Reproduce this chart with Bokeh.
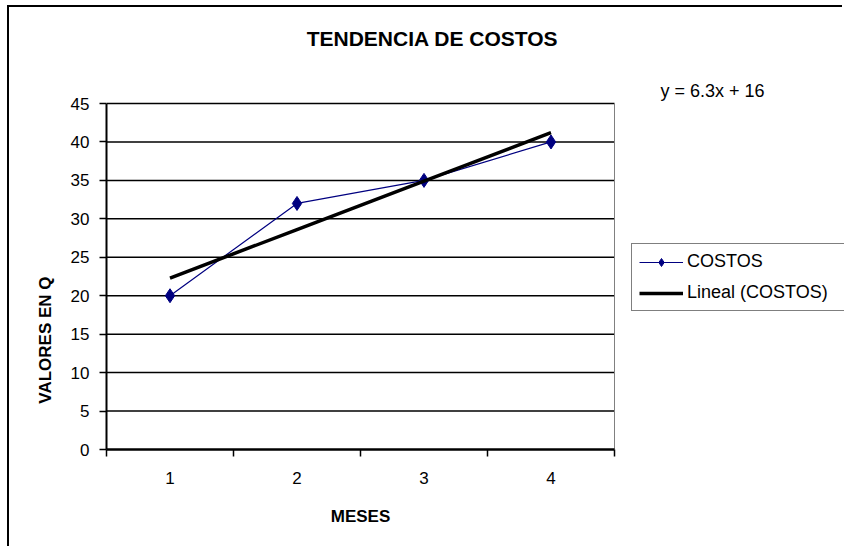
import math
from bokeh.plotting import figure
from bokeh.models import (FixedTicker, Range1d, Legend, LegendItem, Label, LinearAxis)
from bokeh.embed import file_html
from bokeh.resources import INLINE
import numpy as np

# ---- data ----
meses = [1, 2, 3, 4]
mes_labels = ["1", "2", "3", "4"]
costos = [20, 32, 35, 40]
y_ticks = [0, 5, 10, 15, 20, 25, 30, 35, 40, 45]
x_lo, x_hi = 0.5, 4.5      # category band edges
y_lo, y_hi = 0, 45
band_edges = [0.5, 1.5, 2.5, 3.5, 4.5]

# linear trend (Excel "Lineal")
slope, intercept = np.polyfit(meses, costos, 1)
trend = [slope * m + intercept for m in meses]
eq_text = "y = %.1fx + %d" % (slope, round(intercept))

# ---- layout: window px of the plot area; canvas offset for the chart border ----
OX, OY = 9, 7
W, H = 844 - OX, 548 - OY
PL, PR, PT, PB = 106, 614, 103, 449          # plot-area edges (window px)
kx = (x_hi - x_lo) / (PR - PL)               # data units per px
ky = (y_hi - y_lo) / (PB - PT)

def dx(px):
    return x_lo + (px - PL) * kx

def dy(py):
    return y_lo + (PB - py) * ky

FONT = "Liberation Sans"

# the frame extends to the top/right canvas edges so that the title, equation
# and legend (drawn inside the frame) are not clipped; axes use bounds.
p = figure(width=W, height=H, output_backend="svg", toolbar_location=None,
           x_range=Range1d(x_lo, dx(844)), y_range=Range1d(y_lo, dy(OY)),
           min_border_left=PL - OX, min_border_right=0,
           min_border_top=0, min_border_bottom=H - (PB - OY), title=None)
p.styles = {"margin-left": "%dpx" % OX, "margin-top": "%dpx" % OY,
            "box-shadow": "-2px -2px 0 0 black"}
p.background_fill_color = "white"
p.border_fill_color = "white"
p.outline_line_color = None
p.xgrid.visible = False
p.ygrid.visible = False

# x axis: labels at category centres, ticks at category edges
p.xaxis.bounds = (x_lo, x_hi)
p.xaxis.ticker = FixedTicker(ticks=meses, minor_ticks=band_edges)
p.xaxis.major_label_overrides = {m: l for m, l in zip(meses, mes_labels)}
p.xaxis.major_tick_out = 0
p.xaxis.major_tick_in = 0
p.xaxis.minor_tick_out = 7
p.xaxis.minor_tick_in = 0
p.xaxis.minor_tick_line_color = "black"
p.xaxis.minor_tick_line_width = 1.5
p.xaxis.axis_line_width = 2.5
p.xaxis.axis_line_color = "black"
p.xaxis.major_label_standoff = 15

p.yaxis.bounds = (y_lo, y_hi)
p.yaxis.ticker = FixedTicker(ticks=y_ticks)
p.yaxis.major_tick_out = 7
p.yaxis.major_tick_in = 0
p.yaxis.major_tick_line_width = 1.5
p.yaxis.major_tick_line_color = "black"
p.yaxis.minor_tick_line_color = None
p.yaxis.axis_line_width = 2
p.yaxis.axis_line_color = "black"
p.yaxis.major_label_standoff = 10

# axis titles, centred on the plot area (not on the extended frame)
x_mid = (x_lo + x_hi) / 2
y_mid = (y_lo + y_hi) / 2
xt = LinearAxis(ticker=FixedTicker(ticks=[x_mid]),
                major_label_overrides={x_mid: "MESES"},
                axis_line_color=None, major_tick_line_color=None,
                minor_tick_line_color=None, major_label_standoff=14)
yt = LinearAxis(ticker=FixedTicker(ticks=[y_mid]),
                major_label_overrides={y_mid: "VALORES EN Q"},
                major_label_orientation=math.pi / 2,
                axis_line_color=None, major_tick_line_color=None,
                minor_tick_line_color=None, major_label_standoff=16)
for ax in (xt, yt):
    ax.major_label_text_font = FONT
    ax.major_label_text_font_size = "17px"
    ax.major_label_text_font_style = "bold"
    ax.major_label_text_color = "black"
p.add_layout(xt, "below")
p.add_layout(yt, "left")

for ax in (p.xaxis[0], p.yaxis[0]):
    ax.major_label_text_font = FONT
    ax.major_label_text_font_size = "17px"
    ax.major_label_text_color = "black"

# horizontal grid lines (incl. top edge at 45) and grey right edge of plot area
p.segment(x0=x_lo, y0=y_ticks[1:], x1=x_hi, y1=y_ticks[1:],
          line_color="black", line_width=1.5)
p.segment(x0=x_hi, y0=y_lo, x1=x_hi, y1=y_hi, line_color="#808080", line_width=1)

# series
l1 = p.line(meses, costos, line_color="#000080", line_width=1.2)
s1 = p.scatter(meses, costos, marker="diamond", size=14, fill_color="#000080",
               line_color="#000080")
t1 = p.line(meses, trend, line_color="black", line_width=3.5)

legend = Legend(items=[LegendItem(label="COSTOS", renderers=[l1, s1]),
                       LegendItem(label="Lineal (COSTOS)", renderers=[t1])],
                location=(631 - PL, PB - 311))
legend.label_text_font = FONT
legend.label_text_font_size = "18px"
legend.label_text_color = "black"
legend.label_height = 20
legend.label_width = 160
legend.glyph_height = 20
legend.glyph_width = 44
legend.label_standoff = 4
legend.spacing = 10
legend.padding = 7
legend.margin = 0
legend.border_line_color = "black"
legend.border_line_width = 1
legend.background_fill_alpha = 1
p.add_layout(legend, "center")

# title and trend equation
p.add_layout(Label(x=dx(432), y=dy(38), text="TENDENCIA DE COSTOS",
                   text_align="center", text_baseline="middle",
                   text_font=FONT, text_font_size="21px",
                   text_font_style="bold", text_color="black"))
p.add_layout(Label(x=dx(712), y=dy(90), text=eq_text,
                   text_align="center", text_baseline="middle",
                   text_font=FONT, text_font_size="18px", text_color="black"))

open("out.html", "w").write(file_html(p, INLINE))
